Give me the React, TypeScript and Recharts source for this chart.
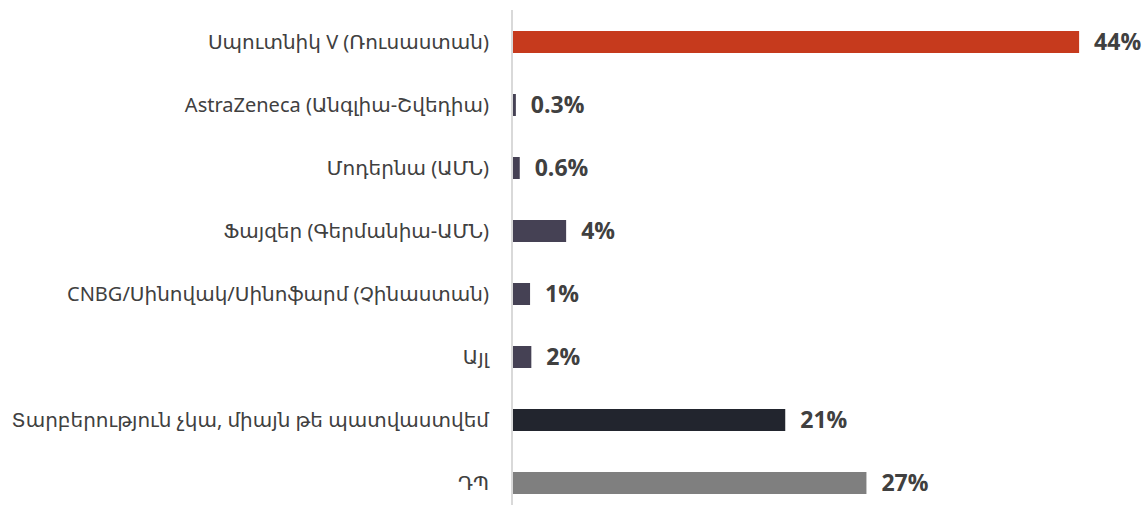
import { Bar, BarChart, Cell, LabelList, XAxis, YAxis } from "recharts";

const categories = [
  "Սպուտնիկ V (Ռուսաստան)",
  "AstraZeneca (Անգլիա-Շվեդիա)",
  "Մոդերնա (ԱՄՆ)",
  "Ֆայզեր (Գերմանիա-ԱՄՆ)",
  "CNBG/Սինովակ/Սինոֆարմ (Չինաստան)",
  "Այլ",
  "Տարբերություն չկա, միայն թե պատվաստվեմ",
  "ԴՊ",
];
const values = [44, 0.3, 0.6, 4.2, 1.4, 1.5, 21.2, 27.5];
const valueLabels = ["44%", "0.3%", "0.6%", "4%", "1%", "2%", "21%", "27%"];
const barColors = ["#C63A1D", "#454154", "#454154", "#454154", "#454154", "#454154", "#22252E", "#7F7F7F"];

const data = categories.map((name, i) => ({ name, value: values[i], label: valueLabels[i] }));

const FONT = "'Noto Sans', 'DejaVu Sans', sans-serif";

export default function App() {
  return (
    <div style={{ position: "fixed", top: 0, left: 0, width: 1146, height: 505, overflow: "hidden", background: "#fff" }}>
      <BarChart
        layout="vertical"
        width={1146}
        height={514}
        data={data}
        margin={{ top: 10, right: 54, left: 0, bottom: 0 }}
        barSize={22}
      >
        <XAxis type="number" domain={[0, 45]} hide />
        <YAxis
          type="category"
          dataKey="name"
          width={512}
          axisLine={{ stroke: "#D9D9D9", strokeWidth: 2 }}
          tickLine={false}
          tickSize={0}
          tickMargin={23}
          tick={{ fill: "#404040", fontSize: 20, fontFamily: FONT }}
          interval={0}
        />
        <Bar dataKey="value" isAnimationActive={false}>
          {data.map((_, i) => (
            <Cell key={i} fill={barColors[i]} />
          ))}
          <LabelList
            dataKey="label"
            position="right"
            offset={15}
            fill="#404040"
            fontSize={23}
            fontWeight="bold"
            fontFamily="'Open Sans', sans-serif"
          />
        </Bar>
      </BarChart>
    </div>
  );
}
